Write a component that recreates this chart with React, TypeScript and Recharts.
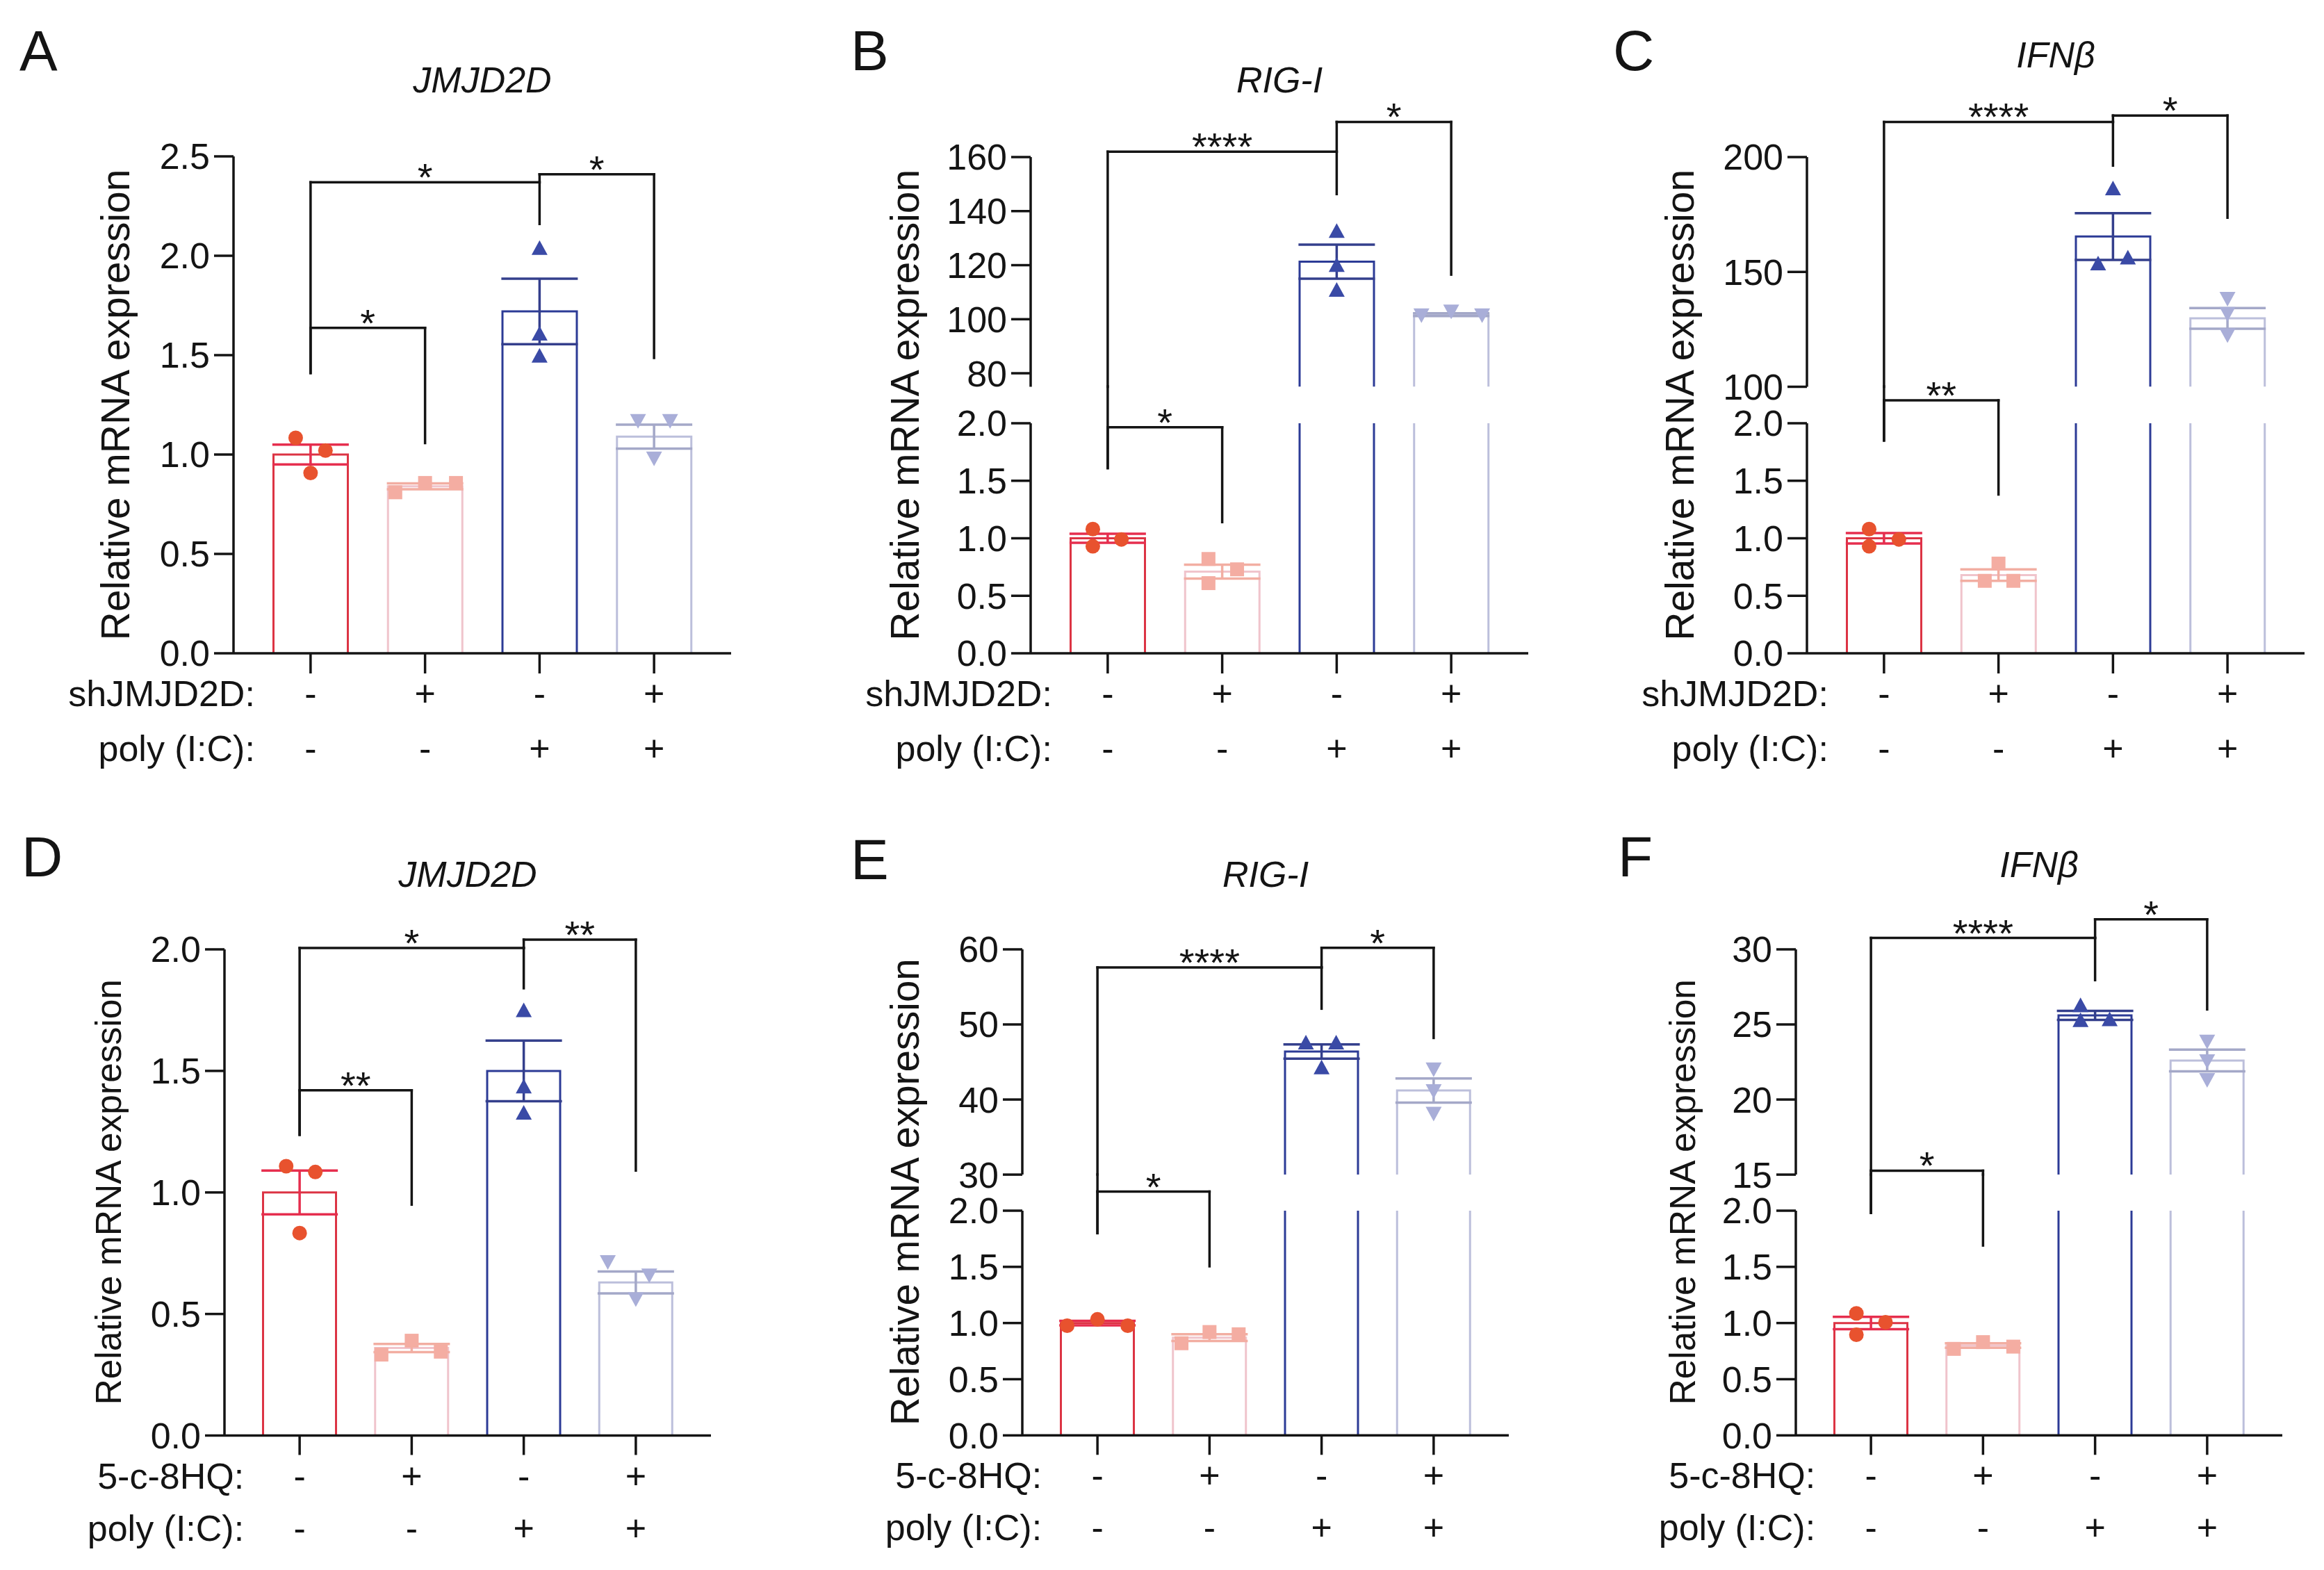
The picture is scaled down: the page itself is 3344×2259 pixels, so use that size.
import React from "react";
import {
  Bar,
  ComposedChart,
  ErrorBar,
  ReferenceDot,
  ReferenceLine,
  Scatter,
  XAxis,
  YAxis,
} from "recharts";

// ---- data ----
const groups = ["ctrl", "knockdown", "polyIC", "knockdownPolyIC"];
const firstRowSigns = ["-", "+", "-", "+"];
const secondRowSigns = ["-", "-", "+", "+"];
const shRowLabels = ["shJMJD2D:", "poly (I:C):"];
const drugRowLabels = ["5-c-8HQ:", "poly (I:C):"];
const yTitle = "Relative mRNA expression";

const lowTicks = [0, 0.5, 1, 1.5, 2];
const aTicks = [0, 0.5, 1, 1.5, 2, 2.5];
const bHighTicks = [80, 100, 120, 140, 160];
const cHighTicks = [100, 150, 200];
const eHighTicks = [30, 40, 50, 60];
const fHighTicks = [15, 20, 25, 30];

// bracket: [from, to, bar height, left foot, right foot, stars]
type Bracket = [number, number, number, number, number, string];

const aMean = [1.0, 0.84, 1.72, 1.09];
const aSem = [0.05, 0.015, 0.165, 0.06];
const aPts = [[1.084, 1.02, 0.907], [0.81, 0.857, 0.857], [2.036, 1.605, 1.494], [1.172, 1.172, 0.983]];
const aSpread = [[-0.13, 0.13, 0], [-0.26, 0, 0.27], [0, 0, 0], [-0.14, 0.14, 0]];
const aBrackets: Bracket[] = [[0, 2, 2.37, 1.41, 2.16, "*"], [2, 3, 2.41, 2.37, 1.486, "*"], [0, 1, 1.637, 1.41, 1.058, "*"]];

const bMean = [1.0, 0.71, 121.3, 101.7];
const bSem = [0.04, 0.06, 6.3, 0.5];
const bPts = [[1.08, 0.99, 0.93], [0.82, 0.73, 0.61], [132.4, 119.8, 110.6], [101.7, 103.1, 101.7]];
const bSpread = [[-0.13, 0.12, -0.13], [-0.12, 0.13, -0.12], [0, 0, 0], [-0.26, 0, 0.27]];
const bBrackets: Bracket[] = [[0, 2, 162, 1.61, 146.3, "****"], [2, 3, 173, 162, 116.5, "*"], [0, 1, 1.965, 1.61, 1.14, "*"]];

const cMean = [1.0, 0.68, 165.4, 129.8];
const cSem = [0.045, 0.05, 10.2, 4.5];
const cPts = [[1.08, 0.99, 0.93], [0.78, 0.63, 0.63], [186.1, 153.4, 156.0], [138.6, 132.0, 122.7]];
const cSpread = [[-0.13, 0.13, -0.13], [0, -0.12, 0.13], [0, -0.13, 0.13], [0, 0, 0]];
const cBrackets: Bracket[] = [[0, 2, 215.3, 1.85, 196.3, "****"], [2, 3, 218.1, 215.3, 173.6, "*"], [0, 1, 2.2, 1.85, 1.38, "**"]];

const dMean = [1.0, 0.36, 1.5, 0.63];
const dSem = [0.09, 0.017, 0.125, 0.045];
const dPts = [[1.108, 1.084, 0.833], [0.333, 0.39, 0.345], [1.747, 1.433, 1.325], [0.716, 0.661, 0.563]];
const dSpread = [[-0.12, 0.14, 0], [-0.27, 0, 0.26], [0, 0, 0], [-0.25, 0.12, 0]];
const dBrackets: Bracket[] = [[0, 2, 2.006, 1.237, 1.84, "*"], [2, 3, 2.04, 2.006, 1.09, "**"], [0, 1, 1.42, 1.237, 0.95, "**"]];

const eMean = [1.0, 0.87, 46.4, 41.2];
const eSem = [0.02, 0.03, 0.95, 1.6];
const ePts = [[0.976, 1.033, 0.976], [0.82, 0.92, 0.9], [47.5, 47.5, 44.2], [44.1, 41.2, 38.2]];
const eSpread = [[-0.27, 0, 0.27], [-0.25, 0, 0.26], [-0.14, 0.13, 0], [0, 0, 0]];
const eBrackets: Bracket[] = [[0, 2, 57.6, 1.8, 52.1, "****"], [2, 3, 60.2, 57.6, 48.2, "*"], [0, 1, 2.17, 1.8, 1.505, "*"]];

const fMean = [1.0, 0.8, 25.6, 22.6];
const fSem = [0.055, 0.02, 0.3, 0.72];
const fPts = [[1.086, 1.007, 0.896], [0.77, 0.83, 0.79], [26.24, 25.25, 25.3], [23.9, 22.6, 21.35]];
const fSpread = [[-0.13, 0.13, -0.13], [-0.26, 0, 0.27], [-0.13, -0.13, 0.13], [0, 0, 0]];
const fBrackets: Bracket[] = [[0, 2, 30.76, 1.98, 27.95, "****"], [2, 3, 32.0, 30.76, 26.0, "*"], [0, 1, 15.26, 1.98, 1.69, "*"]];

// ---- styling ----
const INK = "#141414";
const FONT = '"Liberation Sans", Arial, "DejaVu Sans", sans-serif';
const barStroke = ["#dc3444", "#f0c4cc", "#2c3b96", "#bcbfdb"];
const errStroke = ["#e62e4e", "#f2aea2", "#343f8c", "#a4a8c8"];
const dotFill = ["#e8522e", "#f4ada2", "#3a4aa6", "#a9aed8"];

type Seg = { domain: [number, number]; ticks: number[] };
type Spec = {
  letter: string;
  title: string;
  rowLabels: string[];
  mean: number[];
  sem: number[];
  pts: number[][];
  spread: number[][];
  brackets: Bracket[];
  low: Seg;
  high?: Seg;
};
type Box = {
  axisX: number;
  plotW: number;
  pad: number;
  bar: number;
  tick: number;
  rows: [number, number];
  low: [number, number];
  high?: [number, number];
  labelX: number;
  labelSize: number;
  titleY: number;
  letterX: number;
  letterY: number;
};

const specs: Spec[] = [
  { letter: "A", title: "JMJD2D", rowLabels: shRowLabels, mean: aMean, sem: aSem, pts: aPts, spread: aSpread, brackets: aBrackets, low: { domain: [0, 2.5], ticks: aTicks } },
  { letter: "B", title: "RIG-I", rowLabels: shRowLabels, mean: bMean, sem: bSem, pts: bPts, spread: bSpread, brackets: bBrackets, low: { domain: [0, 2], ticks: lowTicks }, high: { domain: [75, 160], ticks: bHighTicks } },
  { letter: "C", title: "IFNβ", rowLabels: shRowLabels, mean: cMean, sem: cSem, pts: cPts, spread: cSpread, brackets: cBrackets, low: { domain: [0, 2], ticks: lowTicks }, high: { domain: [100, 200], ticks: cHighTicks } },
  { letter: "D", title: "JMJD2D", rowLabels: drugRowLabels, mean: dMean, sem: dSem, pts: dPts, spread: dSpread, brackets: dBrackets, low: { domain: [0, 2], ticks: lowTicks } },
  { letter: "E", title: "RIG-I", rowLabels: drugRowLabels, mean: eMean, sem: eSem, pts: ePts, spread: eSpread, brackets: eBrackets, low: { domain: [0, 2], ticks: lowTicks }, high: { domain: [30, 60], ticks: eHighTicks } },
  { letter: "F", title: "IFNβ", rowLabels: drugRowLabels, mean: fMean, sem: fSem, pts: fPts, spread: fSpread, brackets: fBrackets, low: { domain: [0, 2], ticks: lowTicks }, high: { domain: [15, 30], ticks: fHighTicks } },
];

const topRow = { plotW: 716, pad: 28.5, bar: 107, tick: 29, rows: [58, 137] as [number, number] };
const bottomRow = { plotW: 700, pad: 27.5, bar: 105, tick: 28, rows: [58, 133] as [number, number] };

const boxes: Box[] = [
  { ...topRow, axisX: 336, low: [225, 940], labelX: 166, labelSize: 57, titleY: 115, letterX: 28, letterY: 101 },
  { ...topRow, axisX: 1483, high: [225.5, 556], low: [609, 940], labelX: 1302, labelSize: 57, titleY: 115, letterX: 1224, letterY: 101 },
  { ...topRow, axisX: 2600, high: [225.5, 556], low: [609, 940], labelX: 2417, labelSize: 57, titleY: 79, letterX: 2321, letterY: 101 },
  { ...bottomRow, axisX: 323, low: [1365.5, 2065], labelX: 156, labelSize: 51.5, titleY: 1258, letterX: 31, letterY: 1261 },
  { ...bottomRow, axisX: 1471, high: [1365.5, 1689.6], low: [1741.7, 2065], labelX: 1302.5, labelSize: 56.5, titleY: 1258, letterX: 1224, letterY: 1265 },
  { ...bottomRow, axisX: 2584, high: [1365.5, 1689.6], low: [1741.7, 2065], labelX: 2421, labelSize: 51.5, titleY: 1243.5, letterX: 2328, letterY: 1261 },
];

const YW = 320;
const MR = 20;
const XH = 180;

const fmt = (v: number) => (v < 5 ? v.toFixed(1) : String(v));

function Marker({ cx, cy, kind, color }: any) {
  if (cx == null || cy == null) return null;
  if (kind === 0) return <circle cx={cx} cy={cy} r={10.5} fill={color} />;
  if (kind === 1) return <rect x={cx - 10} y={cy - 10} width={20} height={20} fill={color} />;
  if (kind === 2)
    return <polygon points={`${cx},${cy - 12} ${cx + 11.5},${cy + 9} ${cx - 11.5},${cy + 9}`} fill={color} />;
  return <polygon points={`${cx},${cy + 12} ${cx + 11.5},${cy - 9} ${cx - 11.5},${cy - 9}`} fill={color} />;
}

function OpenBar(props: any) {
  const { x, y, width, height, payload } = props;
  if ([x, y, width, height].some((v) => v == null || Number.isNaN(v))) return null;
  const gi = Math.max(0, groups.indexOf(payload?.name));
  const b = y + height;
  return (
    <path
      d={`M${x},${b} L${x},${y} L${x + width},${y} L${x + width},${b}`}
      fill="none"
      stroke={barStroke[gi]}
      strokeWidth={3}
    />
  );
}

function RowTick(props: any) {
  const { x, y, rowLabels, box } = props;
  const i = props.index ?? props.payload?.index ?? 0;
  const axisY = y - box.tick;
  const [r1, r2] = box.rows;
  const common = { fontSize: 52, fill: INK, dominantBaseline: "central" as const };
  return (
    <g>
      <text x={x} y={axisY + r1} textAnchor="middle" {...common}>{firstRowSigns[i]}</text>
      <text x={x} y={axisY + r2} textAnchor="middle" {...common}>{secondRowSigns[i]}</text>
      {i === 0 && (
        <>
          <text x={x - 80} y={axisY + r1} textAnchor="end" {...common}>{rowLabels[0]}</text>
          <text x={x - 80} y={axisY + r2} textAnchor="end" {...common}>{rowLabels[1]}</text>
        </>
      )}
    </g>
  );
}

function SegmentChart({ spec, box, part }: { spec: Spec; box: Box; part: "low" | "high" }) {
  const broken = !!spec.high;
  const isLow = part === "low";
  const seg = (isLow ? spec.low : spec.high) as Seg;
  const [y0, y1] = (isLow ? box.low : box.high) as [number, number];
  const inSeg = (v: number) => !broken || (v > 3) === !isLow;
  const mt = isLow && broken ? 110 : 170;
  const mb = isLow ? 0 : 40;
  const h = mt + (y1 - y0) + (isLow ? XH : mb);
  const w = YW + box.plotW + MR;

  const gapTop = broken
    ? spec.low.domain[1] +
      ((box.low[0] - (box.high as number[])[1]) * (spec.low.domain[1] - spec.low.domain[0])) / (box.low[1] - box.low[0])
    : 0;

  const lines: [number, number, number, number][] = [];
  const stars: [number, number, string][] = [];
  const leg = (x: number, top: number, foot: number) => {
    if (!broken || top > 3 === foot > 3) {
      if (inSeg(top)) lines.push([x, top, x, foot]);
    } else if (!isLow) {
      lines.push([x, top, x, (spec.high as Seg).domain[0]]);
    } else {
      lines.push([x, gapTop, x, foot]);
    }
  };
  spec.brackets.forEach(([a, b, y, fa, fb, t]) => {
    if (inSeg(y)) {
      lines.push([a, y, b, y]);
      stars.push([(a + b) / 2, y, t]);
    }
    leg(a, y, fa);
    leg(b, y, fb);
  });

  const rows = groups.map((g, i) => ({
    name: g,
    mean: isLow || spec.mean[i] > 3 ? spec.mean[i] : null,
  }));

  return (
    <div style={{ position: "absolute", left: box.axisX - YW, top: y0 - mt }}>
      <ComposedChart width={w} height={h} data={rows} margin={{ top: mt, right: MR, bottom: mb, left: 0 }}>
        <XAxis
          xAxisId="cat"
          dataKey="name"
          type="category"
          hide={!isLow}
          height={XH}
          interval={0}
          padding={{ left: box.pad, right: box.pad }}
          tickSize={box.tick}
          tickMargin={0}
          axisLine={{ stroke: INK, strokeWidth: 3.5 }}
          tickLine={{ stroke: INK, strokeWidth: 3.5 }}
          tick={(p: any) => <RowTick {...p} rowLabels={spec.rowLabels} box={box} />}
        />
        <XAxis
          xAxisId="num"
          dataKey="x"
          type="number"
          hide
          domain={[-0.5, 3.5]}
          allowDataOverflow
          padding={{ left: box.pad, right: box.pad }}
        />
        <YAxis
          type="number"
          width={YW}
          domain={seg.domain}
          ticks={seg.ticks}
          interval={0}
          allowDataOverflow
          tickFormatter={fmt}
          tickSize={28}
          tickMargin={6}
          tick={{ fontSize: 52, fill: INK }}
          axisLine={{ stroke: INK, strokeWidth: 3.5 }}
          tickLine={{ stroke: INK, strokeWidth: 3.5 }}
        />
        <Bar xAxisId="cat" dataKey="mean" barSize={box.bar} shape={OpenBar} isAnimationActive={false} />
        {groups.map((g, i) => (
          <Scatter
            key={`err-${g}`}
            xAxisId="num"
            data={inSeg(spec.mean[i]) ? [{ x: i, y: spec.mean[i], err: spec.sem[i] }] : []}
            dataKey="y"
            shape={() => <g />}
            isAnimationActive={false}
          >
            <ErrorBar dataKey="err" direction="y" width={55} stroke={errStroke[i]} strokeWidth={3.5} isAnimationActive={false} />
          </Scatter>
        ))}
        {groups.map((g, i) => (
          <Scatter
            key={`pts-${g}`}
            xAxisId="num"
            data={spec.pts[i].map((v, k) => ({ x: i + spec.spread[i][k], y: v })).filter((d) => inSeg(d.y))}
            dataKey="y"
            shape={(p: any) => <Marker cx={p.cx} cy={p.cy} kind={i} color={dotFill[i]} />}
            isAnimationActive={false}
          />
        ))}
        {lines.map(([xa, ya, xb, yb], k) => (
          <ReferenceLine
            key={`ln-${k}`}
            xAxisId="num"
            segment={[{ x: xa, y: ya }, { x: xb, y: yb }]}
            stroke={INK}
            strokeWidth={3.5}
            strokeLinecap="square"
            ifOverflow="visible"
          />
        ))}
        {stars.map(([sx, sy, t], k) => (
          <ReferenceDot
            key={`st-${k}`}
            xAxisId="num"
            x={sx}
            y={sy}
            r={0}
            fill="none"
            stroke="none"
            ifOverflow="visible"
            label={(p: any) => {
              const vb = p.viewBox || { x: 0, y: 0, width: 0 };
              return (
                <text x={vb.x + (vb.width || 0) / 2} y={vb.y + 12} textAnchor="middle" fontSize={56} fill={INK}>
                  {t}
                </text>
              );
            }}
          />
        ))}
      </ComposedChart>
    </div>
  );
}

function Texts() {
  return (
    <svg width={3344} height={2259} style={{ position: "absolute", left: 0, top: 0 }}>
      {specs.map((s, i) => {
        const b = boxes[i];
        const topY = b.high ? b.high[0] : b.low[0];
        const cy = (topY + b.low[1]) / 2;
        return (
          <g key={s.letter}>
            <text x={b.letterX} y={b.letterY} fontSize={82} fill={INK}>{s.letter}</text>
            <text
              x={b.axisX + b.plotW / 2}
              y={b.titleY}
              fontSize={52}
              fontStyle="italic"
              textAnchor="middle"
              dominantBaseline="central"
              fill={INK}
            >
              {s.title}
            </text>
            <text
              x={b.labelX}
              y={cy}
              fontSize={b.labelSize}
              textAnchor="middle"
              dominantBaseline="central"
              transform={`rotate(-90 ${b.labelX} ${cy})`}
              fill={INK}
            >
              {yTitle}
            </text>
          </g>
        );
      })}
    </svg>
  );
}

export default function App() {
  return (
    <div
      style={{
        position: "absolute",
        left: 0,
        top: 0,
        width: 3344,
        height: 2259,
        background: "#fff",
        fontFamily: FONT,
        overflow: "hidden",
      }}
    >
      <Texts />
      {specs.map((s, i) => (
        <React.Fragment key={s.letter}>
          {s.high && <SegmentChart spec={s} box={boxes[i]} part="high" />}
          <SegmentChart spec={s} box={boxes[i]} part="low" />
        </React.Fragment>
      ))}
    </div>
  );
}
